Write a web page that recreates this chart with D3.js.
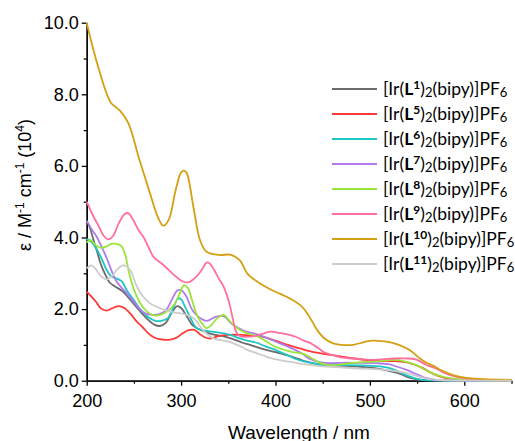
<!DOCTYPE html>
<html>
<head>
<meta charset="utf-8">
<script src="https://cdn.jsdelivr.net/npm/d3@7"></script>
<style>
  body { margin: 0; background: #fff; }
  svg { display: block; }
  .tick text { font-family: "Liberation Sans", Arial, sans-serif; font-size: 18px; fill: #000; }
</style>
</head>
<body>
<svg id="chart" width="515" height="441"></svg>
<script>
// absorption spectra, [wavelength nm, epsilon / 10^4]
const L1 = [[200,4.44],[203,4.3],[207,3.95],[211,3.6],[216,3.18],[220,2.95],[224,2.75],[230,2.63],[238,2.5],[245,2.3],[252,2.08],[260,1.84],[266,1.68],[272,1.56],[278,1.53],[284,1.62],[290,1.9],[296,2.08],[300,2.03],[306,1.8],[312,1.55],[318,1.45],[327,1.35],[336,1.28],[345,1.24],[355,1.16],[365,1.06],[373,1.0],[387,0.88],[401,0.79],[415,0.69],[425,0.6],[433,0.53],[447,0.45],[465,0.42],[490,0.39],[505,0.35],[514,0.31],[522,0.26],[532,0.19],[540,0.1],[550,0.04],[565,0.01],[650,0]];
const L5 = [[200,2.49],[205,2.35],[210,2.2],[215,2.02],[221,1.96],[227,2.02],[233,2.08],[240,2.03],[247,1.85],[253,1.65],[259,1.5],[265,1.33],[272,1.2],[280,1.15],[287,1.14],[295,1.2],[302,1.33],[308,1.41],[314,1.42],[320,1.3],[326,1.2],[332,1.18],[340,1.25],[350,1.28],[362,1.28],[375,1.26],[388,1.22],[400,1.12],[413,1.0],[426,0.9],[437,0.82],[458,0.72],[479,0.64],[500,0.57],[521,0.55],[538,0.52],[546,0.46],[556,0.35],[565,0.22],[574,0.12],[585,0.05],[600,0.02],[650,0]];
const L6 = [[200,3.96],[205,3.88],[210,3.7],[216,3.4],[221,3.1],[226,2.92],[232,2.85],[237,2.78],[243,2.5],[250,2.25],[256,2.02],[265,1.78],[273,1.67],[280,1.68],[286,1.75],[292,2.05],[297,2.3],[300,2.27],[305,2.02],[310,1.75],[316,1.48],[322,1.42],[330,1.38],[341,1.34],[352,1.28],[362,1.18],[370,1.12],[380,1.06],[390,0.95],[398,0.88],[405,0.8],[412,0.72],[420,0.62],[430,0.54],[447,0.46],[469,0.44],[490,0.43],[510,0.4],[520,0.36],[529,0.27],[537,0.17],[545,0.09],[553,0.03],[565,0.01],[650,0]];
const L7 = [[200,4.47],[206,4.2],[210,4.05],[220,3.5],[231,2.8],[242,2.45],[250,2.2],[256,2.0],[262,1.88],[270,1.84],[276,1.85],[284,1.97],[290,2.25],[296,2.52],[300,2.53],[305,2.38],[312,1.97],[320,1.75],[327,1.67],[337,1.79],[345,1.8],[355,1.56],[366,1.4],[380,1.3],[398,1.12],[415,0.93],[428,0.76],[437,0.6],[447,0.52],[458,0.49],[470,0.5],[482,0.5],[507,0.49],[520,0.46],[529,0.39],[539,0.3],[546,0.22],[553,0.14],[560,0.07],[568,0.03],[590,0.01],[650,0]];
const L8 = [[200,3.86],[204,3.93],[209,3.8],[214,3.72],[220,3.74],[226,3.82],[232,3.82],[237,3.75],[241,3.5],[245,3.0],[250,2.55],[256,2.2],[263,1.95],[270,1.83],[277,1.83],[285,1.93],[292,2.1],[298,2.4],[303,2.66],[307,2.6],[311,2.3],[316,1.88],[320,1.68],[327,1.47],[332,1.55],[338,1.74],[345,1.84],[352,1.65],[362,1.42],[370,1.32],[380,1.25],[390,1.1],[398,0.97],[415,0.82],[430,0.74],[437,0.65],[447,0.5],[455,0.44],[465,0.44],[482,0.5],[507,0.54],[525,0.58],[532,0.57],[542,0.5],[550,0.43],[560,0.28],[567,0.2],[575,0.13],[585,0.07],[600,0.03],[650,0]];
const L9 = [[200,5.0],[206,4.65],[213,4.3],[218,4.05],[223,3.95],[228,4.05],[234,4.4],[240,4.65],[244,4.68],[249,4.5],[255,4.2],[260,4.02],[266,3.7],[271,3.45],[281,3.24],[291,2.99],[302,2.77],[308,2.75],[316,2.9],[322,3.1],[327,3.3],[330,3.28],[334,3.14],[340,2.85],[345,2.63],[349,2.35],[352,2.07],[355,1.7],[358,1.38],[362,1.25],[373,1.23],[385,1.3],[394,1.37],[405,1.33],[415,1.28],[422,1.22],[430,1.12],[437,1.05],[447,0.88],[451,0.8],[460,0.72],[468,0.66],[482,0.62],[503,0.58],[525,0.62],[542,0.62],[550,0.58],[560,0.44],[571,0.33],[580,0.2],[592,0.11],[610,0.04],[650,0.01]];
const L10 = [[200,10.0],[207,9.25],[214,8.6],[221,8.03],[226,7.75],[235,7.55],[244,7.2],[256,6.16],[267,5.24],[275,4.6],[281,4.33],[287,4.5],[294,5.3],[300,5.82],[303,5.87],[306,5.8],[313,4.86],[320,3.93],[327,3.6],[341,3.51],[352,3.52],[362,3.37],[370,3.0],[380,2.78],[397,2.52],[415,2.3],[428,2.07],[437,1.74],[444,1.42],[451,1.2],[461,1.04],[470,1.0],[482,1.0],[494,1.08],[503,1.12],[515,1.1],[525,1.05],[542,0.86],[553,0.62],[560,0.5],[567,0.42],[575,0.3],[592,0.13],[605,0.07],[620,0.04],[650,0.02]];
const L11 = [[200,3.14],[205,3.22],[210,3.1],[215,2.92],[221,2.83],[226,2.9],[232,3.1],[238,3.22],[242,3.2],[247,3.05],[252,2.7],[257,2.45],[266,2.18],[277,2.03],[290,1.92],[302,1.87],[310,1.8],[315,1.7],[322,1.45],[330,1.25],[336,1.17],[345,1.12],[352,1.08],[362,0.97],[370,0.86],[380,0.77],[394,0.64],[408,0.56],[426,0.48],[437,0.44],[447,0.41],[465,0.38],[490,0.34],[500,0.33],[521,0.29],[532,0.25],[542,0.19],[550,0.13],[560,0.06],[575,0.02],[650,0]];

const ligands = ["1", "5", "6", "7", "8", "9", "10", "11"];
const spectra = [L1, L5, L6, L7, L8, L9, L10, L11];
const colors = ["#6b6b6b", "#ff3838", "#1fc6c6", "#b07ceb", "#9be53a", "#ff6e9c", "#d4a012", "#cccccc"];

const xTicks = [200, 300, 400, 500, 600];
const xMinor = [250, 350, 450, 550, 650];
const yTicks = [0, 2, 4, 6, 8, 10];
const yMinor = [1, 3, 5, 7, 9];

const svg = d3.select("#chart");

const x = d3.scaleLinear().domain([200, 650]).range([86.7, 511.5]);
const y = d3.scaleLinear().domain([0, 10]).range([380.7, 22.7]);

// minor ticks first, majors + labels on top
svg.append("g")
    .attr("transform", `translate(0,${y(0)})`)
    .call(d3.axisBottom(x).tickValues(xMinor).tickSize(3).tickSizeOuter(0).tickFormat(""));
svg.append("g")
    .attr("transform", `translate(${x(200)},0)`)
    .call(d3.axisLeft(y).tickValues(yMinor).tickSize(3).tickSizeOuter(0).tickFormat(""));

svg.append("g")
    .attr("transform", `translate(0,${y(0)})`)
    .call(d3.axisBottom(x).tickValues(xTicks).tickSize(5).tickSizeOuter(0).tickPadding(9));
svg.append("g")
    .attr("transform", `translate(${x(200)},0)`)
    .call(d3.axisLeft(y).tickValues(yTicks).tickSize(5).tickSizeOuter(0).tickPadding(3).tickFormat(d3.format(".1f")));

svg.selectAll(".domain, .tick line").attr("stroke", "#000").attr("stroke-width", 1.3);

// Draw the spectra
const line = d3.line()
    .x(d => x(d[0]))
    .y(d => y(d[1]))
    .curve(d3.curveCatmullRom.alpha(0.5));

svg.append("g")
    .attr("fill", "none")
    .attr("stroke-width", 1.8)
    .selectAll("path")
    .data(spectra)
    .join("path")
    .attr("stroke", (d, i) => colors[i])
    .attr("d", line);

// axis titles
svg.append("text")
    .attr("x", 299)
    .attr("y", 438.5)
    .attr("text-anchor", "middle")
    .style("font-family", "Liberation Sans, Arial, sans-serif")
    .style("font-size", "19px")
    .text("Wavelength / nm");

const yt = svg.append("text")
    .attr("transform", "translate(31,185) rotate(-90)")
    .attr("text-anchor", "middle")
    .style("font-family", "Liberation Sans, Arial, sans-serif")
    .style("font-size", "18px");
yt.append("tspan").text("ε / M");
yt.append("tspan").attr("dy", -7).style("font-size", "12px").text("-1");
yt.append("tspan").attr("dy", 7).text(" cm");
yt.append("tspan").attr("dy", -7).style("font-size", "12px").text("-1");
yt.append("tspan").attr("dy", 7).text(" (10");
yt.append("tspan").attr("dy", -7).style("font-size", "12px").text("4");
yt.append("tspan").attr("dy", 7).text(")");

// legend
const legend = svg.append("g")
    .selectAll("g")
    .data(ligands)
    .join("g")
    .attr("transform", (d, i) => `translate(332,${89 + i * 25})`);

legend.append("line")
    .attr("x1", 0)
    .attr("x2", 45)
    .attr("stroke", (d, i) => colors[i])
    .attr("stroke-width", 2);

const lt = legend.append("text")
    .attr("x", 51)
    .attr("y", 6)
    .style("font-family", "Lato, sans-serif")
    .style("font-size", "17.5px")
    .style("fill", "#000");
lt.append("tspan").text("[Ir(");
lt.append("tspan").style("font-weight", "bold").text("L");
lt.append("tspan").attr("dy", -6).style("font-size", "12px").style("font-weight", "bold").text(d => d);
lt.append("tspan").attr("dy", 6).text(")");
lt.append("tspan").attr("dy", 2).style("font-size", "13px").text("2");
lt.append("tspan").attr("dy", -2).text("(bipy)]PF");
lt.append("tspan").attr("dy", 2).style("font-size", "13px").text("6");
</script>
</body>
</html>
